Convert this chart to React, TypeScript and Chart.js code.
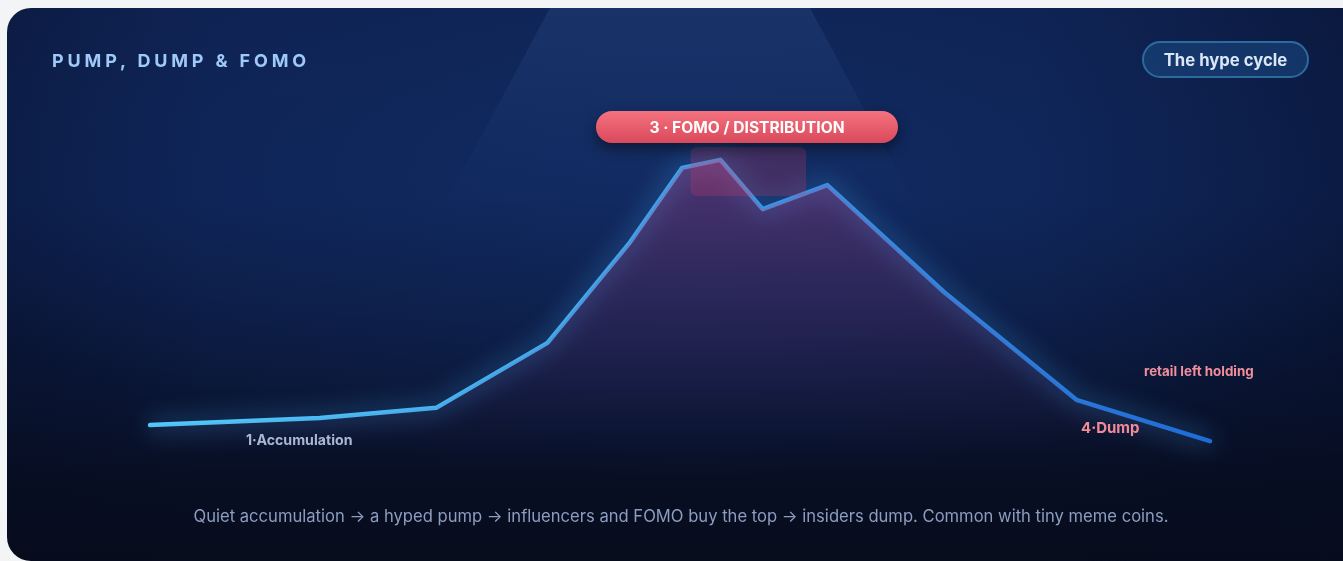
import React, { useEffect, useRef } from "react";
import { Chart, registerables } from "chart.js";

Chart.register(...registerables);

// Hype-cycle path: x = relative time (0-100), y = relative price (0-100)
const phaseTime = [0, 16, 27, 37.5, 45.3, 50.2, 53.8, 57.8, 63.9, 74.9, 87.4, 100];
const hypePrice = [10.9, 13.1, 16.3, 36.6, 68.1, 91.3, 93.8, 78.4, 85.9, 52.5, 18.8, 5.9];
// Highlighted distribution zone (x range, y range)
const zoneX = [51, 61.9];
const zoneY = [82.5, 97.8];

const titleText = "PUMP, DUMP & FOMO";
const badgeText = "The hype cycle";
const peakLabel = "3 · FOMO / DISTRIBUTION";
const accumLabel = "1·Accumulation";
const dumpLabel = "4·Dump";
const retailLabel = "retail left holding";
const footerText =
  "Quiet accumulation → a hyped pump → influencers and FOMO buy the top → insiders dump. Common with tiny meme coins.";

const FONT = "Inter, 'Noto Sans', sans-serif";

export default function App() {
  const canvasRef = useRef<HTMLCanvasElement | null>(null);

  useEffect(() => {
    const canvas = canvasRef.current;
    if (!canvas) return;
    const points = phaseTime.map((x, i) => ({ x, y: hypePrice[i] }));

    const glowPlugin = {
      id: "glow",
      beforeDatasetDraw(chart: any, args: any) {
        if (args.index === 1) {
          const ctx = chart.ctx;
          ctx.save();
          ctx.shadowColor = "rgba(70,175,255,0.85)";
          ctx.shadowBlur = 24;
        }
      },
      afterDatasetDraw(chart: any, args: any) {
        if (args.index === 1) chart.ctx.restore();
      },
    };

    const zonePlugin = {
      id: "zone",
      afterDatasetsDraw(chart: any) {
        const { ctx, scales } = chart;
        const x1 = scales.x.getPixelForValue(zoneX[0]);
        const x2 = scales.x.getPixelForValue(zoneX[1]);
        const y1 = scales.y.getPixelForValue(zoneY[1]);
        const y2 = scales.y.getPixelForValue(zoneY[0]);
        ctx.save();
        ctx.fillStyle = "rgba(215,60,105,0.24)";
        ctx.beginPath();
        (ctx as any).roundRect(x1, y1, x2 - x1, y2 - y1, 6);
        ctx.fill();
        ctx.restore();
      },
    };

    const chart = new Chart(canvas, {
      type: "line",
      data: {
        datasets: [
          {
            data: points,
            borderWidth: 0,
            pointRadius: 0,
            fill: "origin",
            backgroundColor: (c: any) => {
              const a = c.chart.chartArea;
              if (!a) return "rgba(150,60,120,0.2)";
              const g = c.chart.ctx.createLinearGradient(0, a.top, 0, a.bottom);
              g.addColorStop(0, "rgba(200,70,140,0.36)");
              g.addColorStop(0.55, "rgba(150,55,120,0.18)");
              g.addColorStop(1, "rgba(100,40,100,0)");
              return g;
            },
            clip: false as any,
          },
          {
            data: points,
            borderWidth: 4.5,
            pointRadius: 0,
            fill: false,
            tension: 0,
            borderCapStyle: "round",
            borderJoinStyle: "round",
            borderColor: (c: any) => {
              const a = c.chart.chartArea;
              if (!a) return "#4fc3f7";
              const g = c.chart.ctx.createLinearGradient(a.left, 0, a.right, 0);
              g.addColorStop(0, "#52c9fb");
              g.addColorStop(0.5, "#3b9fe9");
              g.addColorStop(1, "#1e6cd8");
              return g;
            },
            clip: false as any,
          },
        ],
      },
      options: {
        responsive: false,
        animation: false,
        layout: { padding: { left: 143, right: 133, top: 132, bottom: 101 } },
        scales: {
          x: { type: "linear", min: 0, max: 100, display: false },
          y: { min: 0, max: 100, display: false },
        },
        plugins: { legend: { display: false }, tooltip: { enabled: false } },
        events: [],
      },
      plugins: [glowPlugin, zonePlugin],
    });
    return () => chart.destroy();
  }, []);

  return (
    <div style={{ position: "absolute", left: 0, top: 0, width: 1343, height: 561, overflow: "hidden", background: "#f3f4f6" }}>
      <div
        style={{
          position: "absolute",
          left: 7,
          top: 8,
          width: 1360,
          height: 553,
          borderRadius: 24,
          overflow: "hidden",
          background:
            "radial-gradient(ellipse 60% 55% at 50% 30%, rgba(22,52,112,0.5), rgba(0,0,0,0) 100%), linear-gradient(90deg, rgba(5,10,30,0.25) 0%, rgba(0,0,0,0) 15%, rgba(0,0,0,0) 75%, rgba(5,10,30,0.4) 100%), linear-gradient(180deg, #0e2150 0%, #0d2152 35%, #0a1636 68%, #080f24 85%, #070c1c 100%)",
          fontFamily: FONT,
        }}
      >
        <div
          style={{
            position: "absolute",
            left: 0,
            top: 0,
            width: 1360,
            height: 200,
            clipPath: "polygon(543px 0px, 803px 0px, 910px 200px, 436px 200px)",
            background: "linear-gradient(180deg, rgba(90,150,230,0.12) 0%, rgba(90,150,230,0.06) 45%, rgba(90,150,230,0) 100%)",
          }}
        />
        <canvas ref={canvasRef} width={1336} height={553} style={{ position: "absolute", left: 0, top: 0, width: 1336, height: 553 }} />
        <div
          style={{
            position: "absolute",
            left: 45,
            top: 41,
            height: 24,
            lineHeight: "24px",
            fontSize: 18,
            fontWeight: 700,
            letterSpacing: 3.85,
            color: "#9fc9f8",
            whiteSpace: "nowrap",
          }}
        >
          {titleText}
        </div>
        <div
          style={{
            position: "absolute",
            left: 1135,
            top: 33,
            width: 167,
            height: 37,
            boxSizing: "border-box",
            border: "2px solid #2c6b9c",
            borderRadius: 19,
            background: "rgba(28,78,138,0.5)",
            color: "#dbe7f7",
            fontSize: 16.7,
            fontWeight: 700,
            display: "flex",
            alignItems: "center",
            justifyContent: "center",
          }}
        >
          {badgeText}
        </div>
        <div
          style={{
            position: "absolute",
            left: 589,
            top: 103,
            width: 302,
            height: 32,
            borderRadius: 16,
            background: "linear-gradient(180deg, #f5727f 0%, #d9495b 100%)",
            boxShadow: "0 6px 14px rgba(0,0,0,0.45)",
            color: "#ffffff",
            fontSize: 15.6,
            fontWeight: 700,
            display: "flex",
            alignItems: "center",
            justifyContent: "center",
            whiteSpace: "nowrap",
          }}
        >
          {peakLabel}
        </div>
        <div style={{ position: "absolute", left: 239, top: 423, fontSize: 14.2, fontWeight: 700, color: "#a9b7d6", whiteSpace: "nowrap", lineHeight: "18px" }}>
          {accumLabel}
        </div>
        <div style={{ position: "absolute", left: 1074, top: 411, fontSize: 15, fontWeight: 700, color: "#f28b99", whiteSpace: "nowrap", lineHeight: "18px" }}>
          {dumpLabel}
        </div>
        <div style={{ position: "absolute", left: 1137, top: 354, fontSize: 13.4, fontWeight: 700, color: "#f08f9c", whiteSpace: "nowrap", lineHeight: "18px" }}>
          {retailLabel}
        </div>
        <div
          style={{
            position: "absolute",
            left: 0,
            top: 497,
            width: 1348,
            textAlign: "center",
            fontSize: 16.6,
            color: "#8c9dbf",
            whiteSpace: "nowrap",
            lineHeight: "22px",
          }}
        >
          {footerText}
        </div>
      </div>
    </div>
  );
}
